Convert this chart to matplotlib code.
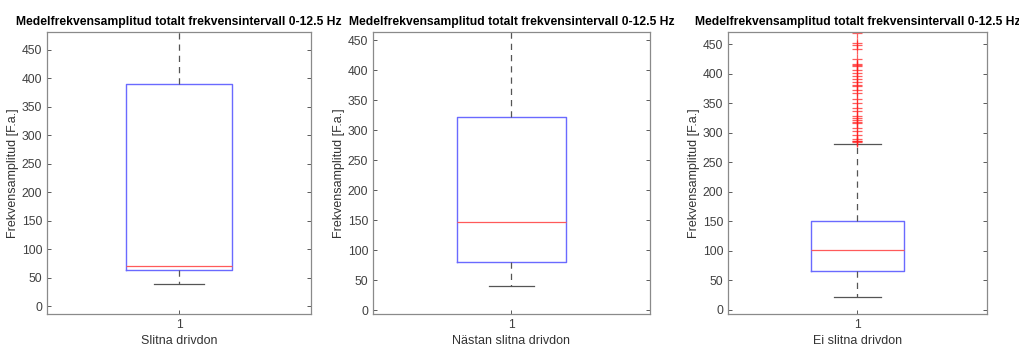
import matplotlib
matplotlib.use("Agg")
import matplotlib.pyplot as plt

plt.rcParams['font.family'] = ['Liberation Sans', 'DejaVu Sans']

# Data (läst från figuren)
title_txt = "Medelfrekvensamplitud totalt frekvensintervall 0-12.5 Hz"
ylabel_txt = "Frekvensamplitud [F.a.]"
groups = ["Slitna drivdon", "Nästan slitna drivdon", "Ei slitna drivdon"]
q1 = [63, 80, 66]
med = [70, 147, 102]
q3 = [389, 323, 151]
whislo = [38, 40, 22]
whishi = [600, 600, 282]
fliers = [
    [],
    [],
    [285, 286, 287, 289, 297, 303, 308, 317, 319, 321, 325, 329, 337, 343,
     351, 358, 367, 372, 379, 382, 386, 392, 396, 401, 407, 414, 415, 416,
     426, 442, 449, 453, 470],
]
ylims = [(-14, 481), (-6, 464), (-7, 471)]
yticks = list(range(0, 451, 50))

# Layout
positions = [
    [47 / 1020, 1 - 314 / 347, 264 / 1020, 282 / 347],
    [373 / 1020, 1 - 314 / 347, 277 / 1020, 282 / 347],
    [728 / 1020, 1 - 314 / 347, 259 / 1020, 282 / 347],
]
box_w = [0.40, 0.39, 0.36]
cap_w = [0.19, 0.16, 0.18]

fig = plt.figure(figsize=(10.2, 3.47), dpi=100)

for i in range(3):
    ax = fig.add_axes(positions[i])
    stats = [{
        'med': med[i], 'q1': q1[i], 'q3': q3[i],
        'whislo': whislo[i], 'whishi': whishi[i],
        'fliers': fliers[i], 'label': '1',
    }]
    ax.bxp(stats, positions=[1], widths=box_w[i], capwidths=cap_w[i],
           boxprops=dict(color='#6a6aff', lw=1.0),
           medianprops=dict(color='#ff5a5a', lw=0.9),
           whiskerprops=dict(color='#555555', lw=0.9, ls=(0, (5, 4))),
           capprops=dict(color='#555555', lw=0.9),
           flierprops=dict(marker='+', markeredgecolor='#ff1a1a', alpha=0.7,
                           markersize=7, markeredgewidth=0.9, linestyle='none'))
    ax.set_xlim(0.5, 1.5)
    ax.set_ylim(*ylims[i])
    ax.set_yticks(yticks)
    ax.set_title(title_txt, fontsize=8.7, fontweight='bold', pad=5)
    ax.set_ylabel(ylabel_txt, fontsize=9, color='#333333', labelpad=2)
    ax.set_xlabel(groups[i], fontsize=9, color='#333333', labelpad=3)
    ax.tick_params(direction='in', right=True, top=False, length=3,
                   labelsize=8.7, colors='#404040', width=0.6)
    for sp in ax.spines.values():
        sp.set_color('#8a8a8a')
        sp.set_linewidth(0.9)

fig.savefig("out.png", dpi=100)
